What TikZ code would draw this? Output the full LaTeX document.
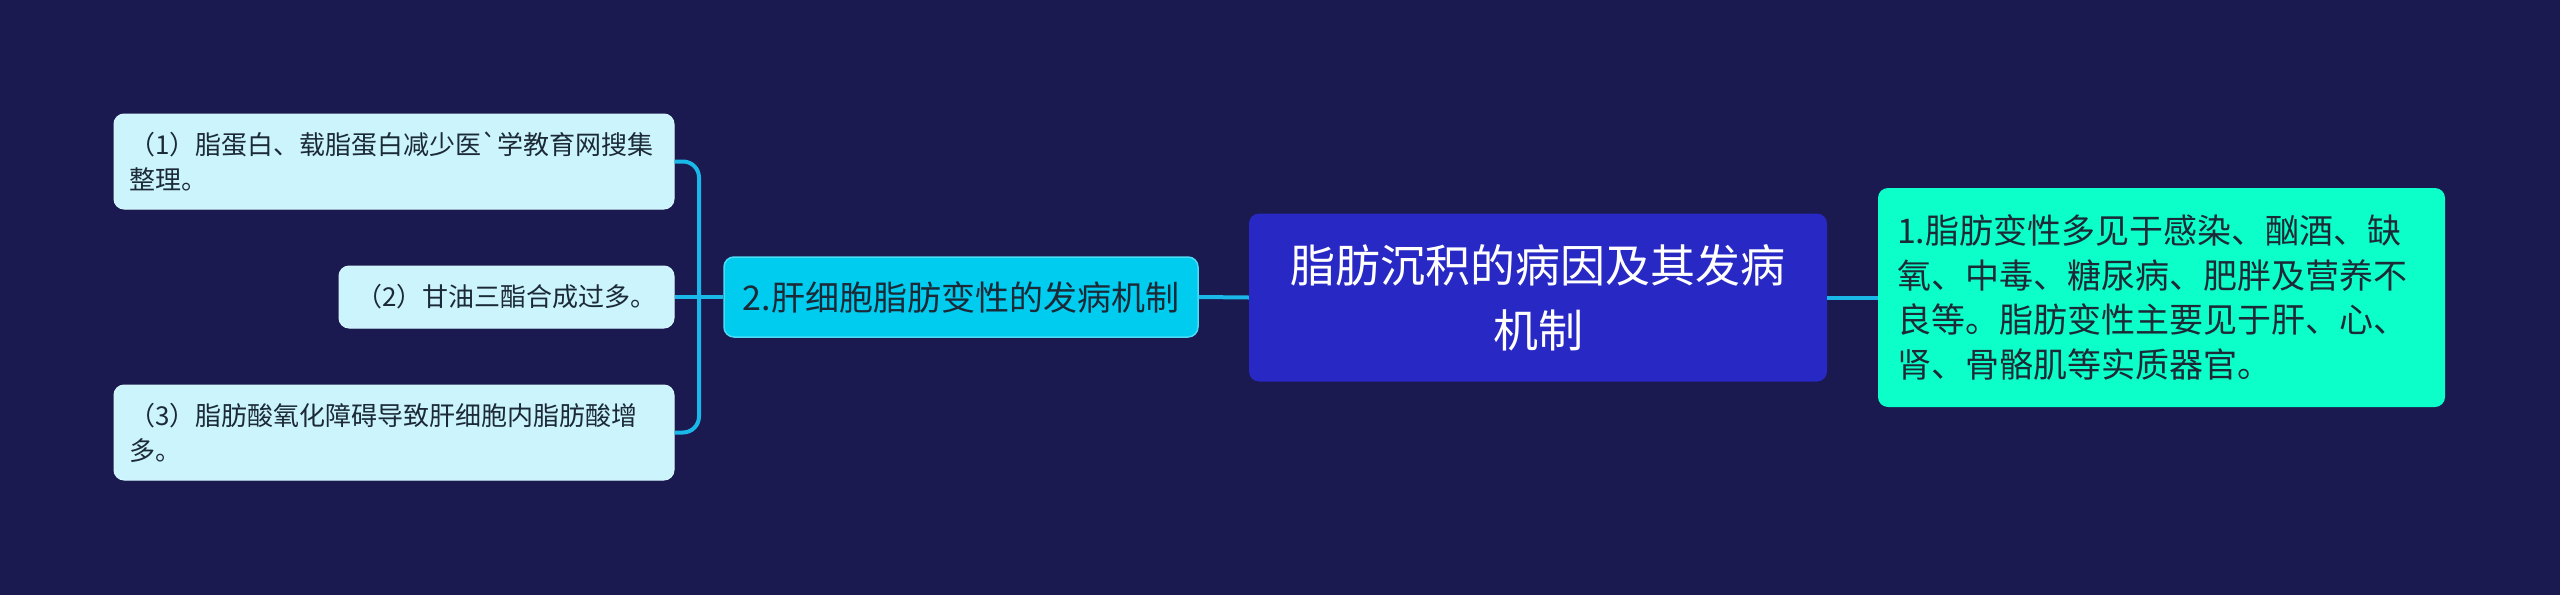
\documentclass[tikz,border=0pt]{standalone}
\usepackage{fontspec}
\setmainfont{Noto Sans CJK SC}[Ligatures=TeXOff]
\definecolor{bg}{HTML}{1A1950}
\definecolor{rootc}{HTML}{2828C4}
\definecolor{greenc}{HTML}{0CFFC8}
\definecolor{midc}{HTML}{00CCF0}
\definecolor{leafc}{HTML}{CCF4FC}
\definecolor{linec}{HTML}{1AB8E8}
\definecolor{txt}{HTML}{1B2A36}
\tikzset{
  box/.style={rounded corners=10pt, inner sep=0pt, anchor=center},
  rootbox/.style={box, fill=rootc, text=white, minimum width=578pt, minimum height=168pt, align=center, font=\fontsize{45}{65}\selectfont},
  greenbox/.style={box, fill=greenc, text=txt, text width=529pt, inner xsep=19pt, minimum height=219pt, align=left, font=\fontsize{34}{44.5}\selectfont},
  midbox/.style={box, fill=midc, draw=midc!70!white, line width=1.5pt, text=txt, minimum width=474pt, minimum height=80pt, font=\fontsize{34}{44}\selectfont},
  leafbox/.style={box, fill=leafc, draw=leafc!80!white, line width=1pt, text=txt, font=\fontsize{26}{35}\selectfont, align=left},
  conn/.style={draw=linec, line width=4pt},
}
\begin{document}
\begin{tikzpicture}[x=1pt,y=-1pt]
\fill[bg] (0,0) rectangle (2560,595);
\useasboundingbox (0,0) rectangle (2560,595);
\node[rootbox] (root) at (1538,297.5) {脂肪沉积的病因及其发病\\机制};
\node[greenbox] (g) at (2161.5,297.5) {1.脂肪变性多见于感染、酗酒、缺\\氧、中毒、糖尿病、肥胖及营养不\\良等。脂肪变性主要见于肝、心、\\肾、骨骼肌等实质器官。};
\node[midbox] (m) at (961,297) {2.肝细胞脂肪变性的发病机制};
\node[leafbox, text width=530pt, inner xsep=15pt, minimum height=95pt] (l1) at (394,161.5) {（1）脂蛋白、载脂蛋白减少医`学教育网搜集\\整理。};
\node[leafbox, minimum width=335pt, minimum height=62pt] (l2) at (506.5,297) {（2）甘油三酯合成过多。};
\node[leafbox, text width=530pt, inner xsep=15pt, minimum height=95pt] (l3) at (394,432.5) {（3）脂肪酸氧化障碍导致肝细胞内脂肪酸增\\多。};
\coordinate (bx) at (699,297);
\draw[conn] (root.west) -- (m.east);
\draw[conn] (root.east) -- (g.west);
\draw[conn] (m.west) -- (l2.east);
\draw[conn, rounded corners=16pt] (l1.east) -- (l1.east -| bx) -- (l3.east -| bx) -- (l3.east);
\end{tikzpicture}
\end{document}
